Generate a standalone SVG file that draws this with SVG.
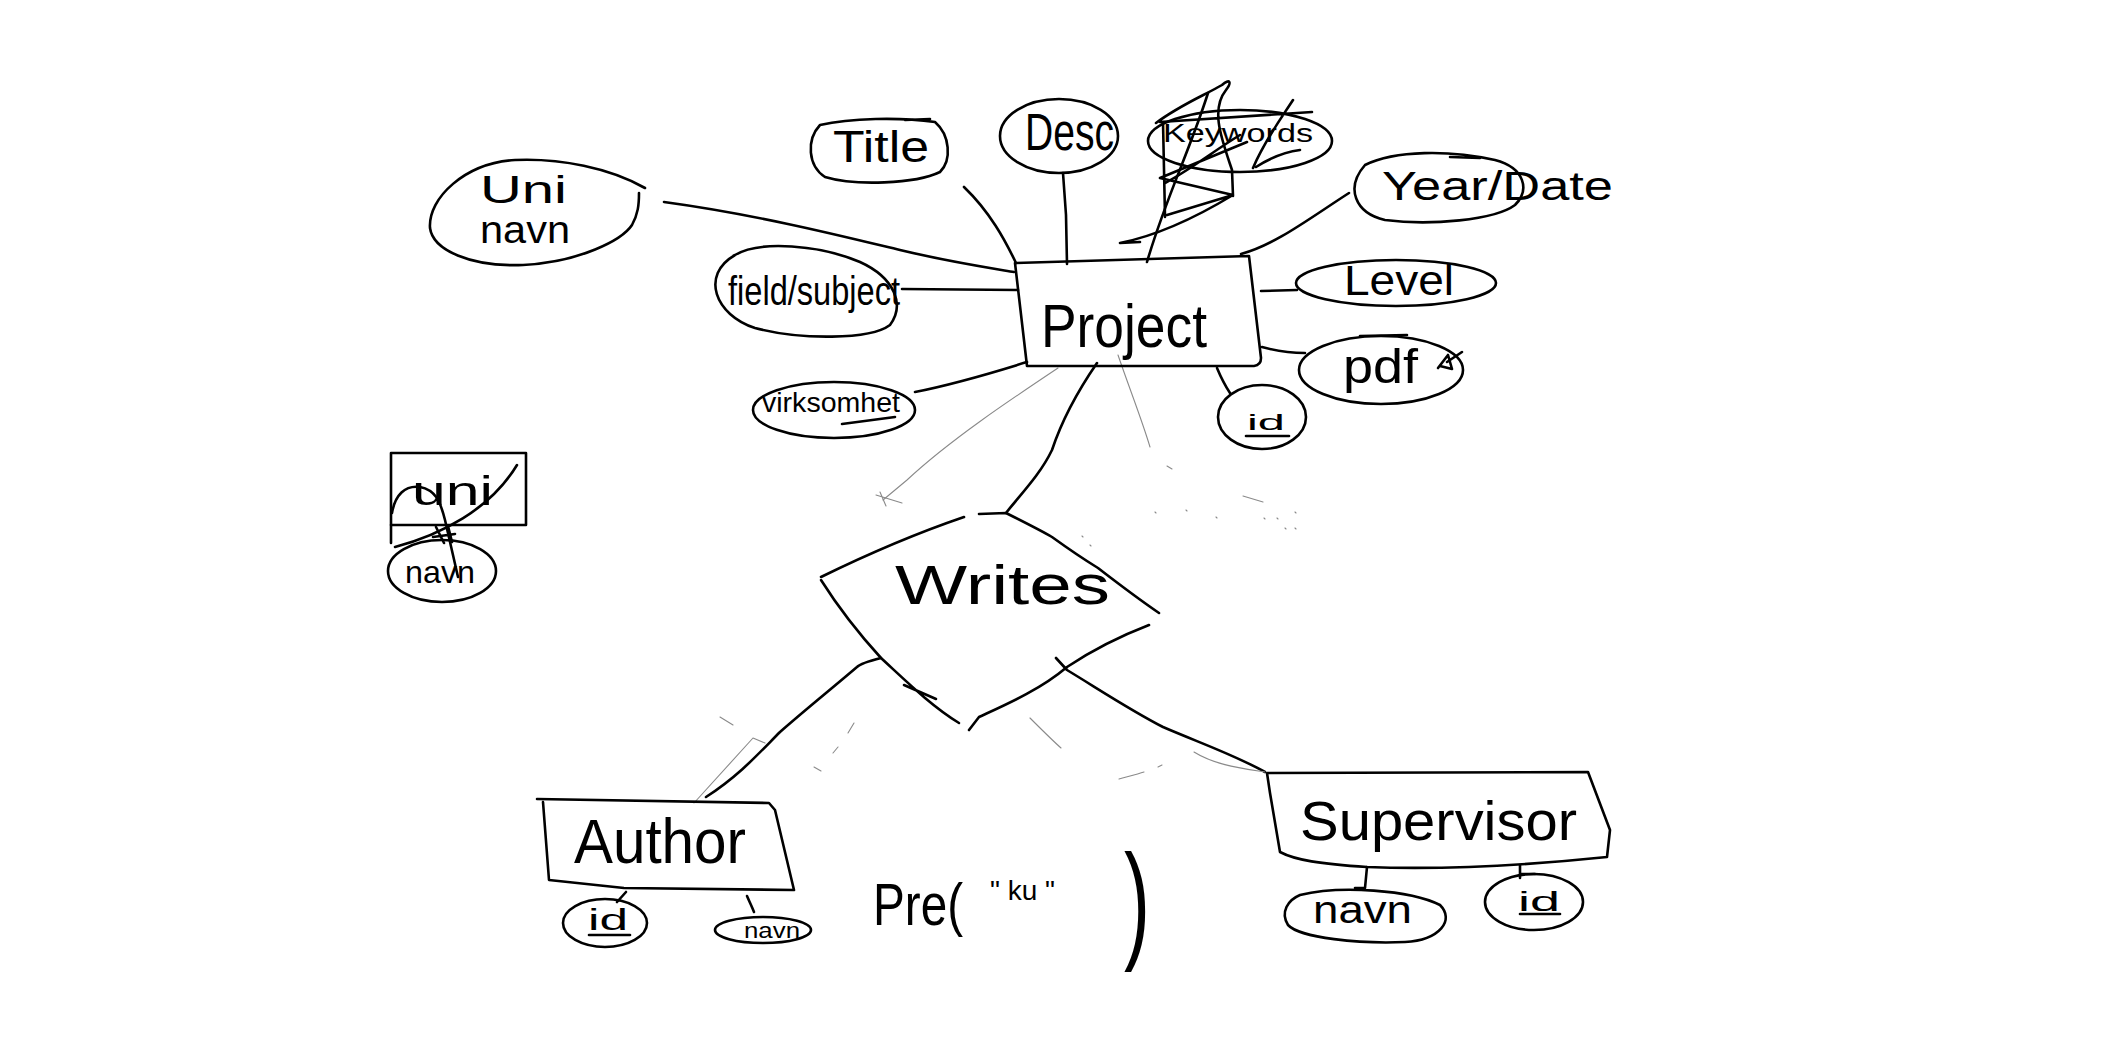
<svg xmlns="http://www.w3.org/2000/svg" width="2103" height="1050" viewBox="0 0 2103 1050">
<style>
.s{fill:none;stroke:#000;stroke-width:2.6;stroke-linecap:round;stroke-linejoin:round}
.g{fill:none;stroke:#8a8a8a;stroke-width:1.1;stroke-linecap:round}
.t{font-family:"Liberation Sans",Arial,sans-serif;fill:#000}
</style>
<rect width="2103" height="1050" fill="#fff"/>

<g id="connectors">
  <path class="s" d="M664,202 C760,215 850,238 900,250 C950,262 990,268 1014,272"/>
  <path class="s" d="M964,187 C990,212 1005,240 1016,263"/>
  <path class="s" d="M1063,173 L1066,215 L1067,264"/>
  <path class="s" d="M1147,262 C1165,200 1190,150 1208,93"/>
  <path class="s" d="M1241,254 C1275,245 1310,218 1349,193"/>
  <path class="s" d="M1261,291 L1297,290"/>
  <path class="s" d="M1262,347 C1280,352 1292,353 1305,353"/>
  <path class="s" d="M1217,368 C1222,380 1226,387 1230,393"/>
  <path class="s" d="M902,289 L1018,290"/>
  <path class="s" d="M915,392 C960,383 995,372 1027,362"/>
  <path class="s" d="M1097,363 C1075,395 1062,420 1052,450 C1040,475 1020,495 1006,513"/>
  <path class="s" d="M881,658 C865,662 860,664 857,667 C830,690 805,710 780,732 C760,752 740,775 706,797"/>
  <path class="s" d="M1056,658 L1067,670 C1100,690 1130,710 1163,727 C1200,743 1235,755 1265,772"/>
  <path class="s" d="M626,892 L617,902"/>
  <path class="s" d="M747,896 C750,903 752,907 754,912"/>
  <path class="s" d="M1367,867 L1365,888 L1355,888"/>
  <path class="s" d="M1520,865 L1520,878 M1520,874 L1535,874"/>
  <!-- faint strokes -->
  <path class="g" d="M1058,368 C1010,400 950,440 907,480 L883,500"/>
  <path class="g" d="M876,495 L902,503 M880,492 L886,506"/>
  <path class="g" d="M1118,355 C1130,390 1142,420 1150,447"/>
  <path class="g" d="M1167,466 L1172,469 M1243,496 L1263,502"/>
  <path class="g" d="M753,738 L694,803 M753,738 L765,743"/>
  <path class="g" d="M1194,752 C1215,765 1240,768 1265,772"/>
  <path class="g" d="M720,717 L733,725 M854,723 L848,733 M838,747 L833,753 M814,767 L821,771"/>
  <path class="g" d="M1030,718 C1042,730 1052,740 1061,748 M1119,779 C1130,776 1138,774 1144,772 M1158,767 L1162,765"/>
  <path class="g" d="M1155,512 L1156,513 M1186,510 L1187,511 M1216,517 L1217,518 M1264,518 L1265,519 M1277,518 L1278,519 M1285,528 L1286,529 M1295,528 L1296,529 M1295,512 L1296,513 M1082,536 L1083,537 M1090,545 L1091,546"/>
</g>

<g id="project">
  <path class="s" d="M1015,263 L1249,256 L1261,358 Q1261,365 1254,366 L1027,366 Z"/>
  <text class="t" x="1041" y="347" font-size="62" textLength="166" lengthAdjust="spacingAndGlyphs">Project</text>
</g>

<g id="uni-navn">
  <path class="s" d="M645,188 C610,168 560,158 515,160 C465,163 428,198 430,228 C433,250 470,267 523,265 C580,262 622,240 632,225 C638,214 639,205 639,193"/>
  <text class="t" x="480" y="203" font-size="38" textLength="87" lengthAdjust="spacingAndGlyphs">Uni</text>
  <text class="t" x="480" y="243" font-size="38" textLength="90" lengthAdjust="spacingAndGlyphs">navn</text>
</g>

<g id="title">
  <path class="s" d="M820,125 C850,118 900,117 935,122 C950,135 952,160 940,172 C915,184 855,186 825,177 C808,166 806,140 820,125 Z M905,120 L930,119"/>
  <text class="t" x="833" y="162" font-size="44" textLength="96" lengthAdjust="spacingAndGlyphs">Title</text>
</g>

<g id="desc">
  <ellipse class="s" cx="1059" cy="136" rx="59" ry="37"/>
  <text class="t" x="1025" y="150" font-size="51" textLength="89" lengthAdjust="spacingAndGlyphs">Desc</text>
</g>

<g id="keywords">
  <ellipse class="s" cx="1240" cy="141" rx="92" ry="31"/>
  <text class="t" x="1163" y="142" font-size="26" textLength="150" lengthAdjust="spacingAndGlyphs">Keywords</text>
  <path class="s" d="M1160,122 L1312,112 M1163,122 L1165,217 M1156,123 C1180,105 1205,95 1222,85 C1230,78 1232,82 1226,90 C1210,110 1222,140 1232,170 L1233,196 M1160,178 L1247,142 M1160,178 L1233,195 L1167,215 M1120,243 C1160,235 1200,215 1233,195 M1120,243 L1140,242 M1253,168 C1265,140 1280,120 1293,100 M1256,167 C1270,158 1285,152 1300,150 M1165,183 C1190,170 1215,150 1240,135"/>
</g>

<g id="year-date">
  <path class="s" d="M1365,165 C1395,150 1450,150 1495,160 C1525,168 1530,190 1515,205 C1495,220 1430,226 1385,220 C1355,213 1345,188 1365,165 Z M1450,157 L1480,158"/>
  <text class="t" x="1382" y="200" font-size="40" textLength="231" lengthAdjust="spacingAndGlyphs">Year/Date</text>
</g>

<g id="level">
  <ellipse class="s" cx="1396" cy="283" rx="100" ry="23"/>
  <text class="t" x="1344" y="295" font-size="42" textLength="110" lengthAdjust="spacingAndGlyphs">Level</text>
</g>

<g id="pdf">
  <ellipse class="s" cx="1381" cy="370" rx="82" ry="34"/>
  <path class="s" d="M1360,336 L1407,335"/>
  <text class="t" x="1343" y="383" font-size="48" textLength="75" lengthAdjust="spacingAndGlyphs">pdf</text>
  <path class="s" d="M1438,368 L1448,355 L1452,369 L1440,366 M1447,362 L1462,352"/>
</g>

<g id="project-id">
  <ellipse class="s" cx="1262" cy="417" rx="44" ry="32"/>
  <text class="t" x="1247" y="430" font-size="22" textLength="38" lengthAdjust="spacingAndGlyphs">id</text>
  <path class="s" d="M1246,436 L1289,436" stroke-width="3.5"/>
</g>

<g id="field-subject">
  <path class="s" d="M735,255 C760,240 820,245 860,262 C895,278 905,305 890,325 C870,340 800,340 755,328 C715,315 700,275 735,255 Z"/>
  <text class="t" x="728" y="305" font-size="40" textLength="172" lengthAdjust="spacingAndGlyphs">field/subject</text>
</g>

<g id="virksomhet">
  <ellipse class="s" cx="834" cy="410" rx="81" ry="28"/>
  <text class="t" x="762" y="412" font-size="28" textLength="138" lengthAdjust="spacingAndGlyphs">virksomhet</text>
  <path class="s" d="M842,424 L895,417"/>
</g>

<g id="uni-entity">
  <rect class="s" x="391" y="453" width="135" height="72"/>
  <text class="t" x="412" y="505" font-size="40" textLength="81" lengthAdjust="spacingAndGlyphs">uni</text>
  <ellipse class="s" cx="442" cy="571" rx="54" ry="31"/>
  <text class="t" x="405" y="583" font-size="32" textLength="70" lengthAdjust="spacingAndGlyphs">navn</text>
  <path class="s" d="M391,525 L391,543 M395,547 C440,535 490,510 517,465 M392,513 C395,495 405,485 420,487 C435,490 440,500 445,520 L458,577 M436,527 L444,543 M448,526 L452,542 M433,537 L455,534"/>
</g>

<g id="writes">
  <path class="s" d="M821,577 C870,553 920,532 964,517 M979,514 L1006,513 C1020,520 1040,530 1052,537 C1070,550 1085,560 1098,568 C1120,585 1140,600 1159,613"/>
  <path class="s" d="M821,580 C840,610 860,635 881,658 C905,680 930,705 959,723 M904,685 L936,699"/>
  <path class="s" d="M1149,625 C1110,640 1085,655 1067,667 C1040,690 1005,705 979,717 L969,730"/>
  <text class="t" x="895" y="604" font-size="56" textLength="215" lengthAdjust="spacingAndGlyphs">Writes</text>
</g>

<g id="author">
  <path class="s" d="M537,799 L769,803 L775,810 L794,890 L624,888 L549,880 L543,802"/>
  <text class="t" x="574" y="863" font-size="63" textLength="172" lengthAdjust="spacingAndGlyphs">Author</text>
</g>

<g id="author-id">
  <ellipse class="s" cx="605" cy="923" rx="42" ry="24"/>
  <text class="t" x="588" y="930" font-size="30" textLength="40" lengthAdjust="spacingAndGlyphs">id</text>
  <path class="s" d="M589,935 L630,935"/>
</g>

<g id="author-navn">
  <ellipse class="s" cx="763" cy="930" rx="48" ry="13"/>
  <text class="t" x="744" y="938" font-size="22" textLength="56" lengthAdjust="spacingAndGlyphs">navn</text>
</g>

<g id="supervisor">
  <path class="s" d="M1267,773 L1588,772 L1610,830 L1607,857 C1530,865 1450,870 1367,867 C1320,864 1295,860 1280,852 L1270,793 Z"/>
  <text class="t" x="1300" y="840" font-size="55" textLength="277" lengthAdjust="spacingAndGlyphs">Supervisor</text>
</g>

<g id="supervisor-navn">
  <path class="s" d="M1300,895 C1340,885 1410,890 1440,905 C1455,920 1440,940 1405,942 C1360,944 1300,938 1288,925 C1280,912 1288,900 1300,895 Z"/>
  <text class="t" x="1313" y="923" font-size="38" textLength="99" lengthAdjust="spacingAndGlyphs">navn</text>
</g>

<g id="supervisor-id">
  <ellipse class="s" cx="1534" cy="902" rx="49" ry="28"/>
  <text class="t" x="1518" y="911" font-size="28" textLength="42" lengthAdjust="spacingAndGlyphs">id</text>
  <path class="s" d="M1520,914 L1560,914"/>
</g>

<g id="pre-note">
  <text class="t" x="873" y="925" font-size="60" textLength="90" lengthAdjust="spacingAndGlyphs">Pre(</text>
  <text class="t" x="990" y="900" font-size="28">" ku "</text>
  <text class="t" x="1124" y="945" font-size="130" transform="translate(1124 0) scale(0.6 1) translate(-1124 0)">)</text>
</g>
</svg>
